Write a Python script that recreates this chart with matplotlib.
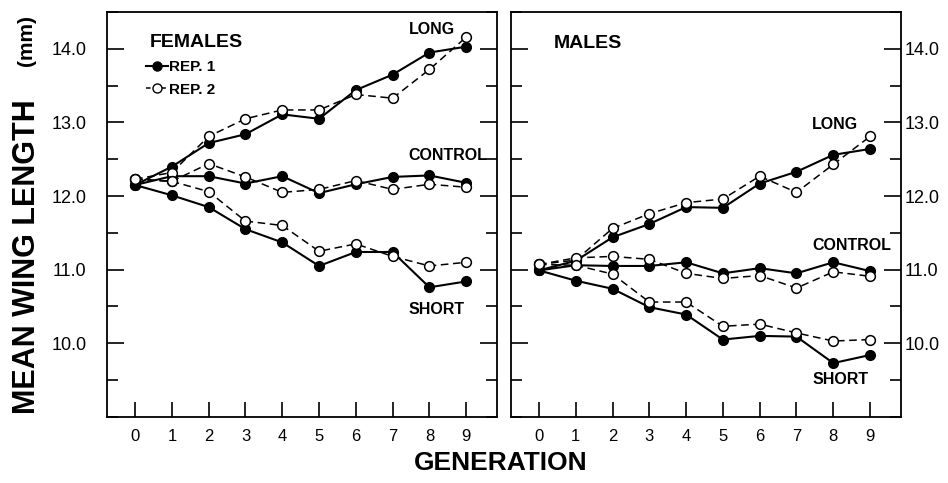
import matplotlib.pyplot as plt
from matplotlib.ticker import MultipleLocator

plt.rcParams['font.family'] = ['Liberation Sans', 'DejaVu Sans']

generation = [0, 1, 2, 3, 4, 5, 6, 7, 8, 9]

# females
f_long_1 = [12.15, 12.40, 12.72, 12.84, 13.11, 13.05, 13.44, 13.65, 13.95, 14.03]
f_long_2 = [12.23, 12.32, 12.81, 13.05, 13.17, 13.17, 13.38, 13.33, 13.72, 14.16]
f_ctrl_1 = [12.15, 12.27, 12.27, 12.17, 12.27, 12.04, 12.16, 12.26, 12.28, 12.18]
f_ctrl_2 = [12.23, 12.20, 12.44, 12.26, 12.05, 12.09, 12.21, 12.09, 12.16, 12.12]
f_short_1 = [12.15, 12.01, 11.85, 11.55, 11.37, 11.05, 11.24, 11.24, 10.76, 10.84]
f_short_2 = [12.23, 12.20, 12.06, 11.66, 11.60, 11.25, 11.35, 11.18, 11.05, 11.10]

# males
m_long_1 = [10.99, 11.12, 11.44, 11.62, 11.85, 11.84, 12.17, 12.33, 12.56, 12.64]
m_long_2 = [11.07, 11.13, 11.56, 11.76, 11.91, 11.96, 12.27, 12.05, 12.43, 12.81]
m_ctrl_1 = [10.99, 11.06, 11.05, 11.05, 11.10, 10.95, 11.02, 10.95, 11.10, 10.98]
m_ctrl_2 = [11.07, 11.16, 11.18, 11.14, 10.95, 10.88, 10.92, 10.75, 10.97, 10.91]
m_short_1 = [10.99, 10.85, 10.74, 10.49, 10.39, 10.05, 10.10, 10.09, 9.73, 9.84]
m_short_2 = [11.07, 11.06, 10.94, 10.56, 10.56, 10.23, 10.26, 10.14, 10.03, 10.05]

y_ticks = [10.0, 11.0, 12.0, 13.0, 14.0]

fig = plt.figure(figsize=(9.48, 4.83), dpi=100)
axL = fig.add_axes([0.113, 0.137, 0.411, 0.838])
axR = fig.add_axes([0.539, 0.137, 0.411, 0.838])


def draw(ax, rep1, rep2):
    for s in rep1:
        ax.plot(generation, s, '-', color='black', lw=1.5, marker='o',
                ms=7, mfc='black', mec='black', zorder=3)
    for s in rep2:
        ax.plot(generation, s, '--', color='black', lw=1.1, dashes=(5, 3),
                marker='o', ms=7, mfc='white', mec='black', mew=1.1, zorder=4)
    ax.set_xlim(-0.76, 9.83)
    ax.set_ylim(9.0, 14.5)
    ax.set_xticks(generation)
    ax.set_yticks(y_ticks)
    ax.yaxis.set_minor_locator(MultipleLocator(0.5))
    ax.tick_params(axis='x', direction='in', length=11, width=1.2,
                   labelsize=12, pad=9, top=False)
    ax.tick_params(axis='y', which='both', direction='in', left=True,
                   right=True, width=1.2, labelsize=13)
    ax.tick_params(axis='y', which='major', length=12)
    ax.tick_params(axis='y', which='minor', length=8)
    for sp in ax.spines.values():
        sp.set_linewidth(1.3)


draw(axL, [f_long_1, f_ctrl_1, f_short_1], [f_long_2, f_ctrl_2, f_short_2])
draw(axR, [m_long_1, m_ctrl_1, m_short_1], [m_long_2, m_ctrl_2, m_short_2])

axL.set_yticklabels(['%.1f' % v for v in y_ticks])
axL.tick_params(axis='y', labelleft=True, labelright=False, pad=15)
axR.tick_params(axis='y', labelleft=False, labelright=True, pad=3)
axR.set_yticklabels(['%.1f' % v for v in y_ticks])

lab = dict(fontsize=11.5, fontweight='bold', va='center', ha='left')
axL.text(7.43, 14.26, 'LONG', **lab)
axL.text(7.43, 12.55, 'CONTROL', **lab)
axL.text(7.43, 10.46, 'SHORT', **lab)
axL.text(0.4, 14.08, 'FEMALES', fontsize=14, fontweight='bold',
         va='center', ha='left')

axR.text(7.43, 12.97, 'LONG', **lab)
axR.text(7.43, 11.33, 'CONTROL', **lab)
axR.text(7.43, 9.51, 'SHORT', **lab)
axR.text(0.4, 14.07, 'MALES', fontsize=14, fontweight='bold',
         va='center', ha='left')

# legend handles
h1, = axL.plot([], [], '-', color='black', lw=1.5, marker='o', ms=6.5,
               mfc='black', label='REP. 1')
h2, = axL.plot([], [], '--', color='black', lw=1.1, dashes=(3, 2),
               marker='o', ms=6.5, mfc='white', label='REP. 2')
leg = axL.legend(handles=[h1, h2], loc='upper left',
                 bbox_to_anchor=(0.065, 0.915), frameon=False,
                 handlelength=1.4, handletextpad=0.1, labelspacing=0.55,
                 prop={'weight': 'bold', 'size': 11})

fig.text(0.028, 0.468, 'MEAN WING LENGTH', rotation=90, fontsize=22,
         fontweight='bold', ha='center', va='center')
fig.text(0.028, 0.917, '(mm)', rotation=90, fontsize=15,
         fontweight='bold', ha='center', va='center')
fig.text(0.528, 0.041, 'GENERATION', fontsize=19, fontweight='bold',
         ha='center', va='center')

fig.savefig('out.png', dpi=100)
